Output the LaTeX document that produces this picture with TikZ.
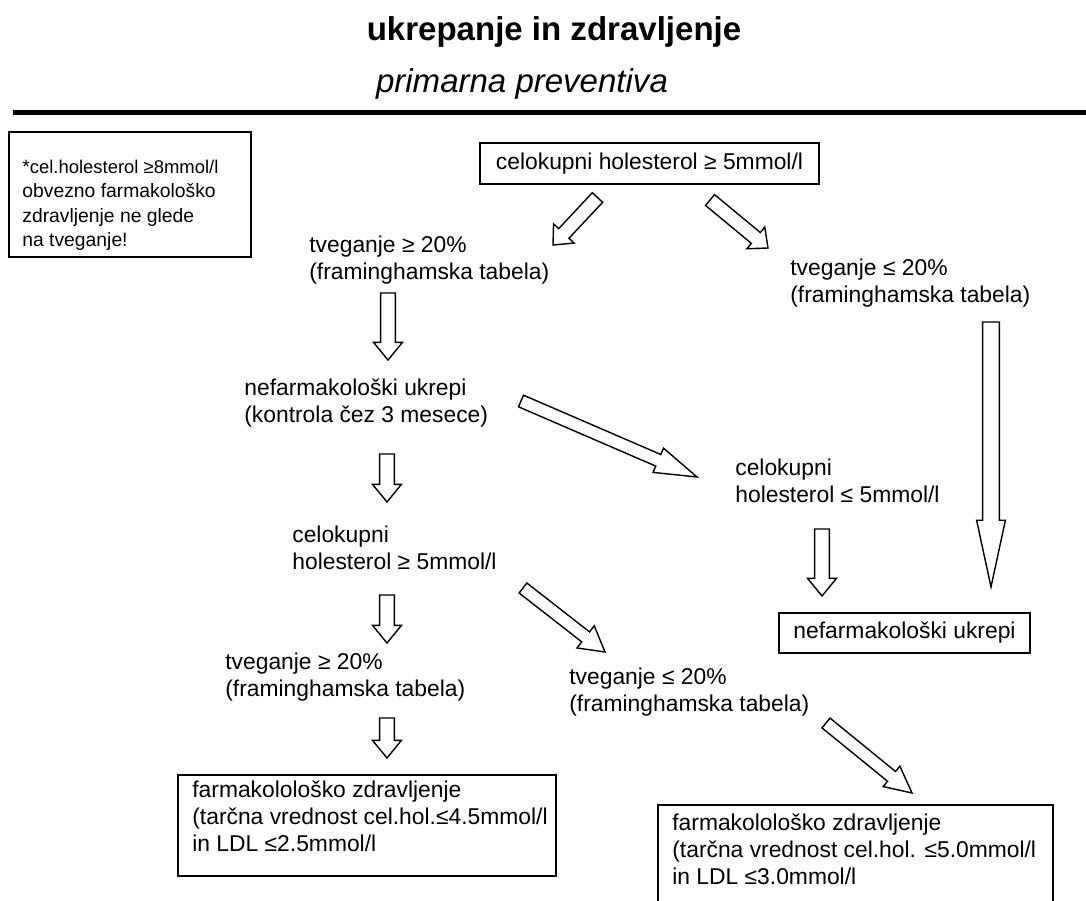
\documentclass[tikz,border=0pt]{standalone}
\usepackage{fontspec}
\setmainfont{Liberation Sans}
\usetikzlibrary{calc}

\newcommand{\blockarrow}[5]{%
        \coordinate (headbase) at ($(#2)!#5!(#1)$);
        \draw[arrowline] ($(#1)!#3!90:(#2)$) -- ($(headbase)!#3!90:(#2)$) -- ($(headbase)!#4!90:(#2)$) -- (#2)
                -- ($(headbase)!#4!-90:(#2)$) -- ($(headbase)!#3!-90:(#2)$) -- ($(#1)!#3!-90:(#2)$) -- cycle;
}

\begin{document}
\begin{tikzpicture}[x=0.02cm, y=-0.02cm,
        txt/.style={anchor=west, align=left, inner sep=0pt, font=\fontsize{13}{15.3}\selectfont},
        box/.style={draw, line width=0.8pt, inner sep=0pt, font=\fontsize{13}{15.3}\selectfont},
        boxline/.style={line width=0.8pt},
        arrowline/.style={line width=0.8pt, fill=white, line join=miter}]
        \useasboundingbox (0,0) rectangle (1086,900);
        \clip (0,0) rectangle (1086,900);

        \node [anchor=base, font=\bfseries\fontsize{18.8}{22}\selectfont] (title) at (554,40) {ukrepanje in zdravljenje};
        \node [anchor=base, font=\itshape\fontsize{18.8}{22}\selectfont] (subtitle) at (522,92) {primarna preventiva};
        \draw [line width=3.1pt] (13,112.5) -- (1086,112.5);

        \node [txt, anchor=north west, font=\fontsize{11}{13.8}\selectfont] (note) at (22,160)
                {*{\fontsize{10.5}{13.8}\selectfont cel.holesterol ≥8mmol/l}\\obvezno farmakološko\\zdravljenje ne glede\\na tveganje!};
        \draw [boxline] ($(note.north west)+(-13,-28)$) rectangle ++(242,125);

        \node [box, minimum width=6.78cm, minimum height=0.82cm] (start) at (649.5,163.5) {celokupni holesterol ≥ 5mmol/l};

        \node [txt] (highrisk) at (309,260) {tveganje ≥ 20\%\\(framinghamska tabela)};
        \node [txt] (lowrisk) at (790,283) {tveganje ≤ 20\%\\(framinghamska tabela)};
        \node [txt] (lifestyle) at (244,403) {nefarmakološki ukrepi\\(kontrola čez 3 mesece)};
        \node [txt] (cholok) at (735,480.5) {celokupni\\holesterol ≤ 5mmol/l};
        \node [txt] (cholhigh) at (292,548) {celokupni\\holesterol ≥ 5mmol/l};
        \node [txt] (highrisk2) at (225,677.5) {tveganje ≥ 20\%\\(framinghamska tabela)};
        \node [txt] (lowrisk2) at (569,692) {tveganje ≤ 20\%\\(framinghamska tabela)};

        \node [box, minimum width=5.02cm, minimum height=0.8cm] (lifestyleonly) at (904.5,633) {nefarmakološki ukrepi};

        \node [txt, anchor=north west] (drugsA) at (192,780.5)
                {farmakolološko zdravljenje\\(tarčna vrednost cel.hol.≤4.5mmol/l\\in LDL ≤2.5mmol/l};
        \draw [boxline] ($(drugsA.north west)+(-14,-5.5)$) rectangle ($(drugsA.north west)+(364,95.5)$);
        \node [txt, anchor=north west] (drugsB) at (672,813.5)
                {farmakolološko zdravljenje\\(tarčna vrednost cel.hol. ≤5.0mmol/l\\in LDL ≤3.0mmol/l};
        \draw [boxline] ($(drugsB.north west)+(-14,-8.5)$) rectangle ($(drugsB.north west)+(381,120)$);

        \coordinate (a1s) at (597.5,197.5);
        \coordinate (a1e) at (553,245);
        \coordinate (a2s) at (710,200);
        \coordinate (a2e) at (768,248);
        \coordinate (v1s) at (388,293);
        \coordinate (v1e) at (388,360);
        \coordinate (d1s) at (521,401);
        \coordinate (d1e) at (697,477);
        \coordinate (v2s) at (387,454);
        \coordinate (v2e) at (387,502);
        \coordinate (v3s) at (387,595);
        \coordinate (v3e) at (387,643);
        \coordinate (d2s) at (523,588);
        \coordinate (d2e) at (605,652);
        \coordinate (v5s) at (387,718);
        \coordinate (v5e) at (387,758);
        \coordinate (d3s) at (826,723);
        \coordinate (d3e) at (912,793);
        \coordinate (v4s) at (822,529);
        \coordinate (v4e) at (822,596);
        \coordinate (ls) at (991,322);
        \coordinate (le) at (991,587);

        \blockarrow{a1s}{a1e}{4pt}{8pt}{9pt}
        \blockarrow{a2s}{a2e}{4pt}{8pt}{9pt}
        \blockarrow{v1s}{v1e}{4.2pt}{8.2pt}{10pt}
        \blockarrow{d1s}{d1e}{3.6pt}{7.5pt}{24pt}
        \blockarrow{v2s}{v2e}{4.2pt}{8.2pt}{10pt}
        \blockarrow{v3s}{v3e}{4.2pt}{8.2pt}{10pt}
        \blockarrow{d2s}{d2e}{3.6pt}{8pt}{14pt}
        \blockarrow{v5s}{v5e}{4.2pt}{8.2pt}{10pt}
        \blockarrow{d3s}{d3e}{3.6pt}{7.5pt}{15pt}
        \blockarrow{v4s}{v4e}{4.2pt}{8.2pt}{10pt}
        \blockarrow{ls}{le}{4.8pt}{8.2pt}{38pt}
\end{tikzpicture}
\end{document}
